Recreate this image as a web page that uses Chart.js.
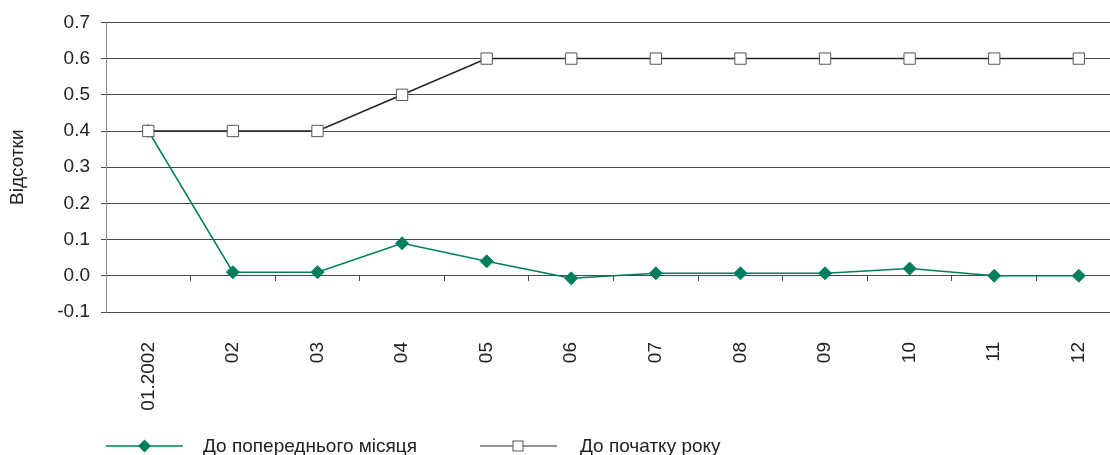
<!DOCTYPE html>
<html>
<head>
<meta charset="utf-8">
<script src="https://cdn.jsdelivr.net/npm/chart.js@4"></script>
<style>
  html, body { margin: 0; padding: 0; overflow: hidden; background: #fff; }
  #wrap { position: relative; width: 1132px; height: 455px; }
  #chart { position: absolute; left: 0; top: 0; }
  .lg { position: absolute; font-family: "Liberation Sans", Arial, sans-serif; font-size: 19px; color: #222; line-height: 22px; white-space: nowrap; }
  .lgm { position: absolute; }
</style>
</head>
<body>
<div id="wrap">
  <canvas id="chart" width="1132" height="455"></canvas>
  <svg class="lgm" style="left:106px; top:439px" width="78" height="14">
    <line x1="0" y1="7" x2="77" y2="7" stroke="#007f5e" stroke-width="1.5"/>
    <polygon points="38.5,0.5 45,7 38.5,13.5 32,7" fill="#007f5e"/>
  </svg>
  <div class="lg" style="left:203px; top:435px">До попереднього місяця</div>
  <svg class="lgm" style="left:480px; top:439px" width="78" height="14">
    <line x1="0" y1="7" x2="77" y2="7" stroke="#222" stroke-width="1.2"/>
    <rect x="33" y="2" width="10" height="10" fill="#fff" stroke="#555" stroke-width="1"/>
  </svg>
  <div class="lg" style="left:580px; top:435px">До початку року</div>
</div>
<script>
const categories = ['01.2002', '02', '03', '04', '05', '06', '07', '08', '09', '10', '11', '12'];
const seriesNames = ['До попереднього місяця', 'До початку року'];
const prevMonth = [0.40, 0.01, 0.01, 0.09, 0.04, -0.007, 0.007, 0.007, 0.007, 0.02, 0.0, 0.0];
const sinceYearStart = [0.40, 0.40, 0.40, 0.50, 0.60, 0.60, 0.60, 0.60, 0.60, 0.60, 0.60, 0.60];
const yTitle = 'Відсотки';
const yMin = -0.1, yMax = 0.7, yStep = 0.1;

const FONT = '"Liberation Sans", Arial, sans-serif';
const GRID = '#4a4a4a';

new Chart(document.getElementById('chart'), {
  type: 'line',
  data: {
    labels: categories,
    datasets: [
      {
        label: seriesNames[0],
        data: prevMonth,
        borderColor: '#007f5e',
        backgroundColor: '#007f5e',
        borderWidth: 1.5,
        pointStyle: 'rectRot',
        pointRadius: 6.5,
        pointBorderWidth: 1,
        pointBorderColor: '#007f5e',
        pointBackgroundColor: '#007f5e',
        tension: 0,
        order: 1
      },
      {
        label: seriesNames[1],
        data: sinceYearStart,
        borderColor: '#222',
        backgroundColor: '#fff',
        borderWidth: 1.5,
        pointStyle: 'rect',
        pointRadius: 8,
        pointBorderWidth: 1,
        pointBorderColor: '#555',
        pointBackgroundColor: '#fff',
        tension: 0,
        order: 0
      }
    ]
  },
  options: {
    responsive: false,
    animation: false,
    events: [],
    layout: { padding: { top: 22, right: 0, left: 0, bottom: 0 } },
    plugins: {
      legend: { display: false },
      tooltip: { enabled: false }
    },
    scales: {
      x: {
        type: 'category',
        position: 'bottom',
        offset: true,
        grid: { display: false, drawTicks: false },
        border: { display: false },
        ticks: {
          minRotation: 90, maxRotation: 90, autoSkip: false,
          padding: 30,
          color: '#222',
          font: { family: FONT, size: 19 }
        },
        afterFit: (s) => { s.height = 143; }
      },
      x0: {
        type: 'category',
        axis: 'x',
        position: { y: 0 },
        offset: true,
        grid: { display: true, drawOnChartArea: false, drawTicks: true, tickLength: 5, color: GRID, offset: true },
        border: { display: false },
        ticks: { display: false }
      },
      y: {
        min: yMin, max: yMax,
        grid: { color: GRID, lineWidth: 1, drawTicks: true, tickLength: 5, tickColor: GRID },
        border: { display: true, color: '#888', width: 1 },
        ticks: {
          stepSize: yStep,
          padding: 11,
          color: '#222',
          font: { family: FONT, size: 19 },
          callback: (v) => (Math.abs(v) < 1e-9 ? 0 : Number(v)).toFixed(1)
        },
        title: {
          display: true,
          text: yTitle,
          color: '#222',
          font: { family: FONT, size: 19 },
          padding: { top: 6, bottom: 0 }
        },
        afterFit: (s) => { s.width = 106; }
      }
    }
  }
});
</script>
</body>
</html>
